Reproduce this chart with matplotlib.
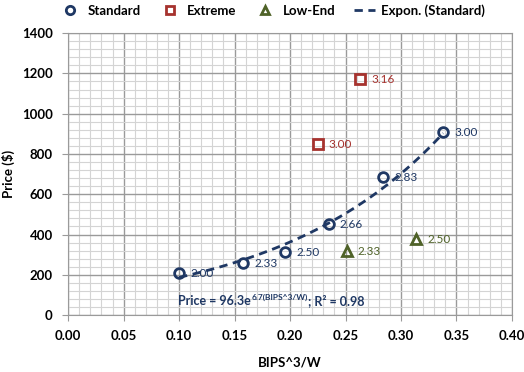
import numpy as np
import matplotlib.pyplot as plt
from matplotlib.ticker import MultipleLocator
from matplotlib.lines import Line2D
from matplotlib.transforms import offset_copy

plt.rcParams['font.family'] = ['Lato', 'DejaVu Sans']

# Standard series
std_x = [0.100, 0.158, 0.1955, 0.235, 0.284, 0.338]
std_y = [208, 258, 313, 452, 685, 909]
std_lbl = ["2.00", "2.33", "2.50", "2.66", "2.83", "3.00"]

# Extreme series
ext_x = [0.225, 0.263]
ext_y = [849, 1172]
ext_lbl = ["3.00", "3.16"]

# Low-End series
low_x = [0.251, 0.3135]
low_y = [318, 377]
low_lbl = ["2.33", "2.50"]

c_std = "#1F3864"
c_ext = "#A6322E"
c_low = "#4F6228"

fig = plt.figure(figsize=(5.24, 3.72), dpi=100)
ax = fig.add_axes([0.130, 0.153, 0.847, 0.758])

ax.set_xlim(0, 0.40)
ax.set_ylim(0, 1400)
ax.xaxis.set_major_locator(MultipleLocator(0.05))
ax.xaxis.set_minor_locator(MultipleLocator(0.01))
ax.yaxis.set_major_locator(MultipleLocator(200))
ax.yaxis.set_minor_locator(MultipleLocator(40))
ax.grid(which="major", color="#9a9a9a", lw=1.0)
ax.grid(which="minor", color="#d4d4d4", lw=0.8)
ax.set_axisbelow(True)
for s in ax.spines.values():
    s.set_color("#9a9a9a")
ax.tick_params(which="major", length=4, color="#9a9a9a", labelsize=9.5, pad=7)
ax.tick_params(which="minor", length=0)
ax.set_xticklabels([f"{v:.2f}" for v in ax.get_xticks()], fontweight="bold")
ax.set_yticklabels([f"{int(v)}" for v in ax.get_yticks()], fontweight="bold")
ax.set_xlabel("BIPS^3/W", fontweight="bold", fontsize=9.5, labelpad=10)
ax.set_ylabel("Price ($)", fontweight="bold", fontsize=9.5, labelpad=5)

# exponential trendline fitted on Standard series
b, a = np.polyfit(std_x, np.log(std_y), 1)
tx = np.linspace(min(std_x), max(std_x), 100)
ax.plot(tx, np.exp(a) * np.exp(b * tx), ls=(0, (3, 2)), color=c_std, lw=2, zorder=3)

mk = dict(mfc="none", mew=2, ms=7, ls="none", zorder=4)
ax.plot(std_x, std_y, "o", mec=c_std, **mk)
ax.plot(ext_x, ext_y, "s", mec=c_ext, **mk)
ax.plot(low_x, low_y, "^", mec=c_low, **mk)

for xs, ys, ls, c in [(std_x, std_y, std_lbl, c_std), (ext_x, ext_y, ext_lbl, c_ext),
                      (low_x, low_y, low_lbl, c_low)]:
    for x, y, t in zip(xs, ys, ls):
        ax.annotate(t, (x, y), xytext=(8, 0), textcoords="offset points",
                    va="center", ha="left", fontsize=8.5, color=c, zorder=5)

# trendline equation, built from pieces so the superscript sits right
fig.canvas.draw()
r = fig.canvas.get_renderer()
t1 = ax.text(0.099, 50, "Price = 96.3e", fontsize=9, fontweight="bold", color=c_std,
             va="baseline", ha="left")
w1 = t1.get_window_extent(r).width * 72 / fig.dpi
t2 = ax.text(0.099, 50, "6.7(BIPS^3/W)", fontsize=6, fontweight="bold", color=c_std,
             va="baseline", ha="left",
             transform=offset_copy(ax.transData, fig, x=w1 + 0.5, y=4, units="points"))
w2 = t2.get_window_extent(r).width * 72 / fig.dpi
ax.text(0.099, 50, "; R\u00b2 = 0.98", fontsize=9, fontweight="bold", color=c_std,
        va="baseline", ha="left",
        transform=offset_copy(ax.transData, fig, x=w1 + w2 + 1, y=0, units="points"))

handles = [
    Line2D([], [], marker="o", mfc="none", mec=c_std, mew=2, ms=6, ls="none"),
    Line2D([], [], marker="s", mfc="none", mec=c_ext, mew=2, ms=6, ls="none"),
    Line2D([], [], marker="^", mfc="none", mec=c_low, mew=2, ms=6, ls="none"),
    Line2D([], [], ls=(0, (3, 2)), color=c_std, lw=2),
]
fig.legend(handles, ["Standard", "Extreme", "Low-End", "Expon. (Standard)"],
           loc="center", bbox_to_anchor=(0.52, 0.972), ncol=4, frameon=False,
           prop={"weight": "bold", "size": 9.5}, handlelength=1.6, columnspacing=1.4,
           handletextpad=0.5)

fig.savefig("out.png", dpi=100)
